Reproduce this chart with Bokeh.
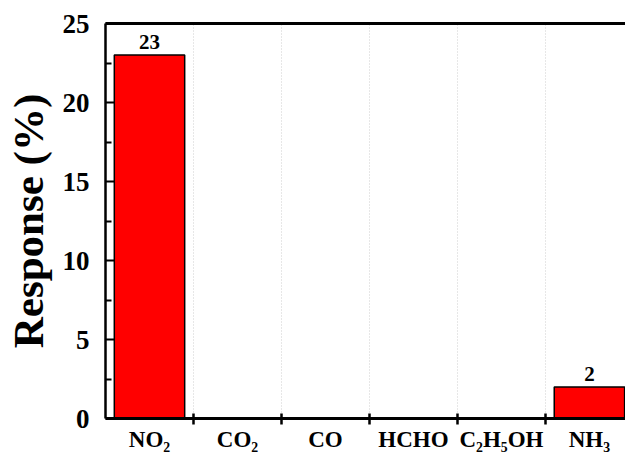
from bokeh.plotting import figure
from bokeh.models import ColumnDataSource, FixedTicker, LinearAxis, Range1d
from bokeh.core.properties import value
from bokeh.embed import file_html
from bokeh.resources import INLINE

# Gas response data
gases = ["NO₂", "CO₂", "CO", "HCHO", "C₂H₅OH", "NH₃"]
response = [23, 0, 0, 0, 0, 2]
y_ticks = [0, 5, 10, 15, 20, 25]

positions = list(range(1, len(gases) + 1))
FONT = "Liberation Serif"

src = ColumnDataSource(dict(x=positions, top=response))
shown = [(x, v) for x, v in zip(positions, response) if v > 0]
lbl_src = ColumnDataSource(dict(x=[s[0] for s in shown], y=[s[1] for s in shown],
                                text=[str(s[1]) for s in shown]))

p = figure(width=625, height=454, output_backend="svg", toolbar_location=None,
           x_range=Range1d(0.5, 6.41), y_range=Range1d(0, 25))
p.min_border_left = 105
p.min_border_right = 0
p.min_border_top = 23
p.min_border_bottom = 35
p.outline_line_color = None
p.background_fill_color = "white"
p.border_fill_color = "white"

p.vbar(x="x", top="top", bottom=0, width=0.8, source=src,
       fill_color="#ff0000", line_color="black", line_width=1.5)

p.text(x="x", y="y", text="text", source=lbl_src, text_align="center",
       text_baseline="bottom", y_offset=-6, text_font=value(FONT),
       text_font_style="bold", text_font_size="21px", text_color="black")

# x axis: labels at category centres, ticks at category boundaries
xa = p.xaxis[0]
xa.axis_label = None
xa.axis_label_standoff = 0
xa.ticker = FixedTicker(ticks=positions,
                        minor_ticks=[x + 0.5 for x in positions])
xa.major_label_overrides = {x: g for x, g in zip(positions, gases)}
xa.major_tick_line_color = None
xa.major_tick_in = 0
xa.major_tick_out = 0
xa.minor_tick_in = 5
xa.minor_tick_out = 6
xa.minor_tick_line_width = 2.5
xa.axis_line_width = 3
xa.major_label_standoff = 2
xa.major_label_text_font = FONT
xa.major_label_text_font_style = "bold"
xa.major_label_text_font_size = "23px"
xa.major_label_text_color = "black"

# y axis
ya = p.yaxis[0]
ya.ticker = FixedTicker(ticks=y_ticks, minor_ticks=[t + 2.5 for t in y_ticks])
ya.axis_line_width = 2.5
ya.major_tick_in = 9
ya.major_tick_out = 0
ya.minor_tick_in = 6
ya.minor_tick_out = 0
ya.major_tick_line_width = 2
ya.minor_tick_line_width = 2
ya.major_label_standoff = 16
ya.major_label_text_font = FONT
ya.major_label_text_font_style = "bold"
ya.major_label_text_font_size = "27px"
ya.major_label_text_color = "black"
ya.axis_label = "Response (%)"
ya.axis_label_text_font = FONT
ya.axis_label_text_font_style = "bold"
ya.axis_label_text_font_size = "43px"
ya.axis_label_text_color = "black"
ya.axis_label_standoff = 8

# top frame line
top = LinearAxis(ticker=FixedTicker(ticks=[]), axis_line_width=3,
                 major_label_text_font_size="0px")
p.add_layout(top, "above")

# dotted separators between categories
p.xgrid.grid_line_color = None
p.xgrid.minor_grid_line_color = "#cfcfcf"
p.xgrid.minor_grid_line_dash = "1 2"
p.xgrid.minor_grid_line_width = 1
p.ygrid.grid_line_color = None

open("out.html", "w").write(file_html(p, INLINE))
